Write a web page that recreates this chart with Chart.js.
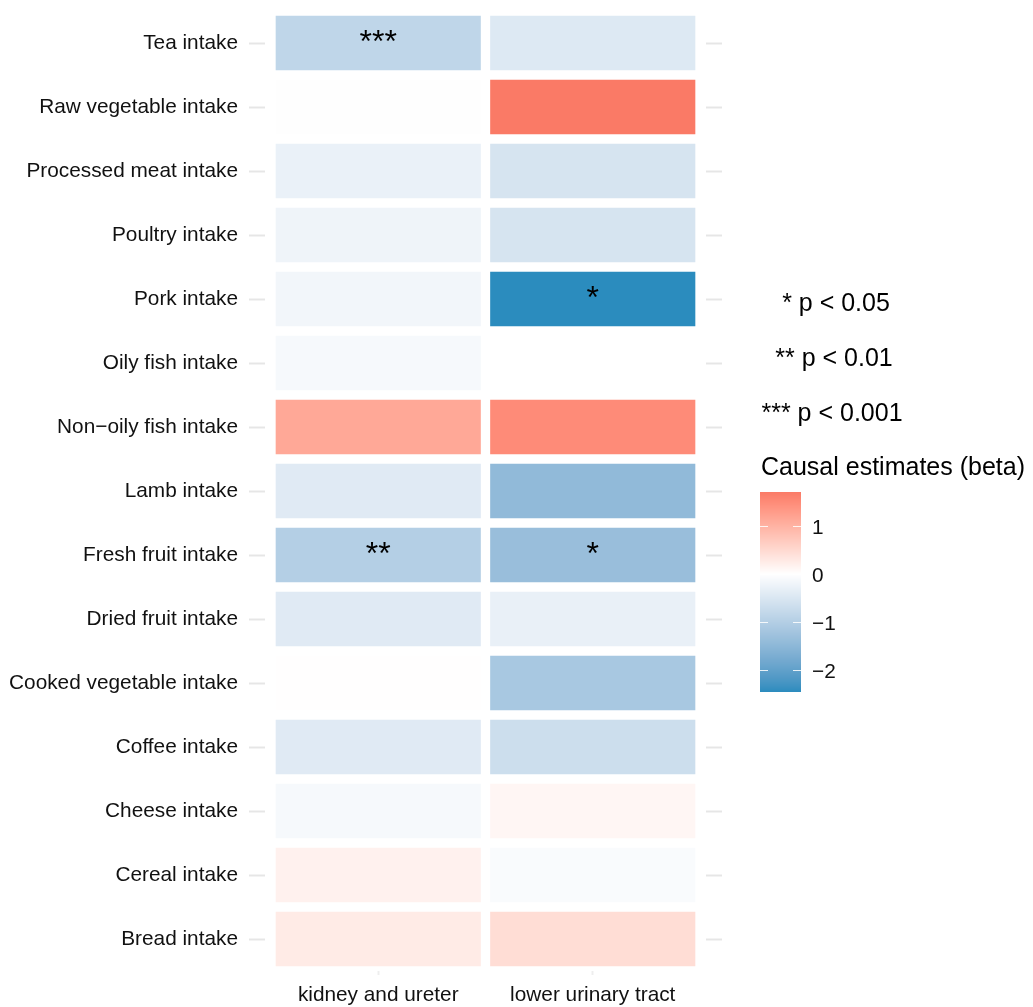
<!DOCTYPE html>
<html>
<head>
<meta charset="utf-8">
<script src="https://cdn.jsdelivr.net/npm/chart.js@4/dist/chart.umd.min.js"></script>
<style>
  html, body { margin: 0; padding: 0; background: #ffffff; }
  canvas { display: block; }
</style>
</head>
<body>
<canvas id="heat" width="1033" height="1007"></canvas>
<script>
// Dietary exposures (rows, top to bottom) and urinary outcomes (columns)
const foods = [
  'Tea intake', 'Raw vegetable intake', 'Processed meat intake', 'Poultry intake',
  'Pork intake', 'Oily fish intake', 'Non\u2212oily fish intake', 'Lamb intake',
  'Fresh fruit intake', 'Dried fruit intake', 'Cooked vegetable intake',
  'Coffee intake', 'Cheese intake', 'Cereal intake', 'Bread intake'
];
const outcomes = ['kidney and ureter', 'lower urinary tract'];

// Causal estimates (beta) per food, one array per outcome
const betaKidneyUreter = [
  -0.85, -0.02, -0.28, -0.22, -0.18, -0.12, 1.14, -0.42,
  -1.00, -0.42, 0.01, -0.42, -0.12, 0.18, 0.26
];
const betaLowerUrinary = [
  -0.45, 1.71, -0.55, -0.55, -2.46, 0.00, 1.50, -1.45,
  -1.35, -0.30, -1.15, -0.68, 0.12, -0.08, 0.45
];

// Significance markers per cell
const starsKidneyUreter = ['***', '', '', '', '', '', '', '', '**', '', '', '', '', '', ''];
const starsLowerUrinary = ['', '', '', '', '*', '', '', '', '*', '', '', '', '', '', ''];

// Legend texts and colour-bar ticks
const pLegend = ['* p < 0.05', '** p < 0.01', '*** p < 0.001'];
const legendTitle = 'Causal estimates (beta)';
const colourbarTicks = [1, 0, -1, -2];

const betas = [betaKidneyUreter, betaLowerUrinary];
const stars = [starsKidneyUreter, starsLowerUrinary];

const FONT = "'Liberation Sans', Arial, Helvetica, sans-serif";
Chart.defaults.font.family = FONT;

// ---- diverging fill: white at 0, interpolated in CIE Lab ----
const LOW_RGB = [43, 140, 190];
const HIGH_RGB = [250, 122, 102];
const allBetas = betas.flat();
const vMin = Math.min(...allBetas);
const vMax = Math.max(...allBetas);

function toLin(c) { c /= 255; return c <= 0.04045 ? c / 12.92 : Math.pow((c + 0.055) / 1.055, 2.4); }
function fromLin(c) {
  c = c <= 0.0031308 ? 12.92 * c : 1.055 * Math.pow(c, 1 / 2.4) - 0.055;
  return Math.round(Math.max(0, Math.min(1, c)) * 255);
}
const WX = 0.95047, WY = 1.0, WZ = 1.08883;
function fLab(t) { return t > 0.008856 ? Math.cbrt(t) : 7.787 * t + 16 / 116; }
function fInv(t) { const t3 = t * t * t; return t3 > 0.008856 ? t3 : (t - 16 / 116) / 7.787; }
function rgbToLab(rgb) {
  const r = toLin(rgb[0]), g = toLin(rgb[1]), b = toLin(rgb[2]);
  const X = (0.4124 * r + 0.3576 * g + 0.1805 * b) / WX;
  const Y = (0.2126 * r + 0.7152 * g + 0.0722 * b) / WY;
  const Z = (0.0193 * r + 0.1192 * g + 0.9505 * b) / WZ;
  const fx = fLab(X), fy = fLab(Y), fz = fLab(Z);
  return [116 * fy - 16, 500 * (fx - fy), 200 * (fy - fz)];
}
function labToRgb(lab) {
  const fy = (lab[0] + 16) / 116, fx = fy + lab[1] / 500, fz = fy - lab[2] / 200;
  const X = fInv(fx) * WX, Y = fInv(fy) * WY, Z = fInv(fz) * WZ;
  const r = 3.2406 * X - 1.5372 * Y - 0.4986 * Z;
  const g = -0.9689 * X + 1.8758 * Y + 0.0415 * Z;
  const b = 0.0557 * X - 0.2040 * Y + 1.0570 * Z;
  return [fromLin(r), fromLin(g), fromLin(b)];
}
const LAB_WHITE = rgbToLab([255, 255, 255]);
const LAB_LOW = rgbToLab(LOW_RGB);
const LAB_HIGH = rgbToLab(HIGH_RGB);
function fillFor(v) {
  const end = v < 0 ? LAB_LOW : LAB_HIGH;
  const t = v < 0 ? Math.min(1, v / vMin) : Math.min(1, v / vMax);
  const lab = LAB_WHITE.map((w, k) => w + (end[k] - w) * t);
  const c = labToRgb(lab);
  return `rgb(${c[0]},${c[1]},${c[2]})`;
}

// ---- significance stars drawn at each tile's centre ----
const starPlugin = {
  id: 'stars',
  afterDatasetsDraw(chart) {
    const ctx = chart.ctx;
    ctx.save();
    ctx.fillStyle = '#000';
    ctx.font = `32px ${FONT}`;
    ctx.textAlign = 'center';
    ctx.textBaseline = 'middle';
    chart.data.datasets.forEach((ds, c) => {
      const meta = chart.getDatasetMeta(c);
      meta.data.forEach((bar, j) => {
        const s = stars[c][j];
        if (!s) return;
        const p = bar.getCenterPoint();
        ctx.fillText(s, p.x, p.y);
      });
    });
    ctx.restore();
  }
};

// ---- side legends: p-value key and colour bar ----
const legendPlugin = {
  id: 'sideLegend',
  afterDraw(chart) {
    const ctx = chart.ctx;
    ctx.save();
    ctx.fillStyle = '#000';
    ctx.textBaseline = 'alphabetic';

    // p-value key
    ctx.font = `25px ${FONT}`;
    ctx.textAlign = 'center';
    const keyX = [836, 834, 832];
    pLegend.forEach((t, i) => ctx.fillText(t, keyX[i], 311 + i * 55));

    // colour bar title
    ctx.textAlign = 'left';
    ctx.font = `25px ${FONT}`;
    ctx.fillText(legendTitle, 761, 475);

    // colour bar body
    const barLeft = 760, barW = 41, barTop = 492, barBottom = 692;
    const valueToY = v => barTop + (vMax - v) / (vMax - vMin) * (barBottom - barTop);
    for (let y = barTop; y < barBottom; y++) {
      const v = vMax - ((y + 0.5 - barTop) / (barBottom - barTop)) * (vMax - vMin);
      ctx.fillStyle = fillFor(v);
      ctx.fillRect(barLeft, y, barW, 1);
    }
    // ticks and labels
    ctx.strokeStyle = 'rgba(255,255,255,0.85)';
    ctx.lineWidth = 1.2;
    ctx.font = `20.8px ${FONT}`;
    ctx.fillStyle = '#111';
    colourbarTicks.forEach(v => {
      const y = Math.round(valueToY(v)) + 0.5;
      ctx.beginPath();
      ctx.moveTo(barLeft, y); ctx.lineTo(barLeft + 8, y);
      ctx.moveTo(barLeft + barW - 8, y); ctx.lineTo(barLeft + barW, y);
      ctx.stroke();
      const label = v < 0 ? '\u2212' + Math.abs(v) : String(v);
      ctx.fillText(label, 812, y + 7.5);
    });
    ctx.restore();
  }
};

const tickFont = { size: 20.8, family: FONT };

// Vertical axes: fixed width, no extra label padding at the ends
function fixVertical(width) {
  return scale => {
    scale.width = width;
    scale.paddingTop = 0;
    scale.paddingBottom = 0;
  };
}

new Chart(document.getElementById('heat'), {
  type: 'bar',
  data: {
    labels: foods,
    datasets: outcomes.map((name, c) => ({
      label: name,
      data: foods.map(() => [c, c + 1]),
      backgroundColor: betas[c].map(fillFor),
      borderColor: '#ffffff',
      borderWidth: 5,
      borderSkipped: false,
      grouped: false,
      barPercentage: 1,
      categoryPercentage: 1,
      xAxisID: 'x',
      yAxisID: 'y'
    }))
  },
  options: {
    indexAxis: 'y',
    responsive: false,
    animation: false,
    devicePixelRatio: 1,
    layout: { padding: { top: 11, bottom: 0, left: 0, right: 0 } },
    plugins: { legend: { display: false }, tooltip: { enabled: false } },
    scales: {
      x: {
        type: 'linear',
        position: 'bottom',
        min: -0.028,
        max: outcomes.length + 0.028,
        stacked: false,
        afterBuildTicks(scale) {
          scale.ticks = outcomes.map((_, i) => ({ value: i + 0.5 }));
        },
        afterFit(scale) {
          scale.height = 36;
          scale.paddingLeft = 0;
          scale.paddingRight = 0;
        },
        grid: { drawOnChartArea: false, drawTicks: true, tickLength: 4, tickColor: '#eeeeee', tickWidth: 2 },
        border: { display: false },
        ticks: {
          autoSkip: false, maxRotation: 0, padding: 8,
          color: '#111', font: tickFont,
          callback: (v, i) => outcomes[i]
        }
      },
      y: {
        type: 'category',
        position: 'left',
        offset: true,
        afterFit: fixVertical(265),
        grid: { offset: false, drawOnChartArea: false, drawTicks: true, tickLength: 16, tickColor: '#e6e6e6', tickWidth: 2 },
        border: { display: false },
        ticks: { padding: 11, color: '#111', font: tickFont, autoSkip: false }
      },
      yRight: {
        type: 'category',
        position: 'right',
        labels: foods,
        offset: true,
        afterFit: fixVertical(327),
        grid: { offset: false, drawOnChartArea: false, drawTicks: true, tickLength: 16, tickColor: '#e6e6e6', tickWidth: 2 },
        border: { display: false },
        ticks: { display: false, autoSkip: false }
      }
    }
  },
  plugins: [starPlugin, legendPlugin]
});
</script>
</body>
</html>
